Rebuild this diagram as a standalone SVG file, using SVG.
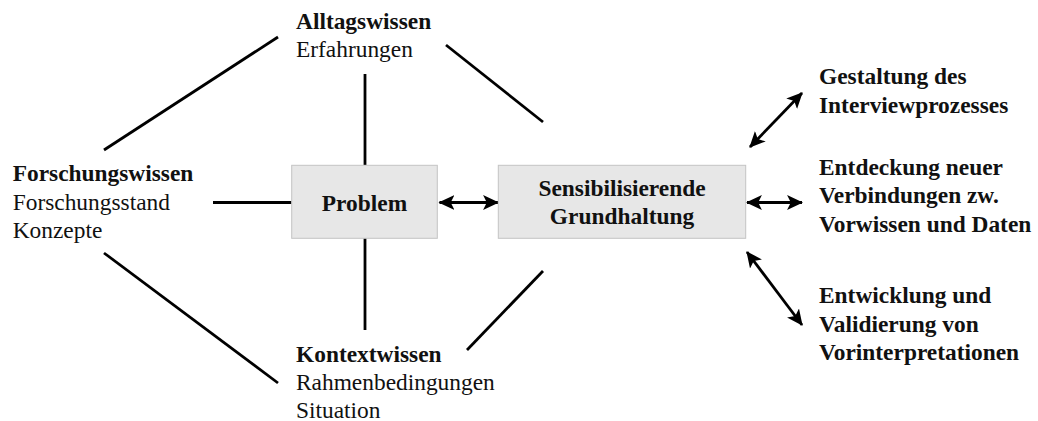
<svg xmlns="http://www.w3.org/2000/svg" width="1038" height="421" viewBox="0 0 1038 421">
  <style>
    text { font-family: 'Liberation Serif', 'DejaVu Serif', serif; font-size: 23.4px; fill: #111; }
    .b { font-weight: bold; }
    .box { fill: #e7e7e7; stroke: #c4c4c4; stroke-width: 1; }
    .ln { stroke: #000; stroke-width: 2.8; fill: none; stroke-linecap: butt; }
    .arr { marker-start: url(#head); marker-end: url(#head); }
  </style>
  <defs>
    <marker id="head" markerUnits="userSpaceOnUse" markerWidth="16" markerHeight="16" viewBox="0 0 15 14" refX="14" refY="7" orient="auto-start-reverse">
      <path d="M0,0 L15,7 L0,14 L3.5,7 z" fill="#000"/>
    </marker>
  </defs>

  <!-- connectors -->
  <g id="connectors">
    <line class="ln" x1="104" y1="150" x2="278" y2="37"/>
    <line class="ln" x1="104" y1="253" x2="278" y2="383"/>
    <line class="ln" x1="446" y1="45" x2="543" y2="122"/>
    <line class="ln" x1="467" y1="350" x2="543" y2="271"/>
    <line class="ln" x1="365" y1="74" x2="365" y2="165"/>
    <line class="ln" x1="365" y1="238" x2="365" y2="330"/>
    <line class="ln" x1="213" y1="202.5" x2="291.7" y2="202.5"/>
    <line class="ln arr" x1="439.5" y1="202.5" x2="498" y2="202.5"/>
    <line class="ln arr" x1="747" y1="202.5" x2="802" y2="202.5"/>
    <line class="ln arr" x1="750" y1="147" x2="802" y2="93"/>
    <line class="ln arr" x1="747" y1="252" x2="802" y2="325"/>
  </g>

  <!-- central boxes -->
  <g id="problem">
    <rect class="box" x="291.7" y="165.3" width="145.6" height="73"/>
    <text class="b" x="364.5" y="210.7" text-anchor="middle">Problem</text>
  </g>
  <g id="grundhaltung">
    <rect class="box" x="498.3" y="165.3" width="247.4" height="73"/>
    <text class="b" x="622" y="195.7" text-anchor="middle">Sensibilisierende</text>
    <text class="b" x="622" y="224" text-anchor="middle">Grundhaltung</text>
  </g>

  <!-- knowledge sources -->
  <g id="alltagswissen">
    <text class="b" x="296" y="29">Alltagswissen</text>
    <text x="296" y="57.3">Erfahrungen</text>
  </g>
  <g id="forschungswissen">
    <text class="b" x="12.7" y="180.7">Forschungswissen</text>
    <text x="12.7" y="209.5">Forschungsstand</text>
    <text x="12.7" y="237.8">Konzepte</text>
  </g>
  <g id="kontextwissen">
    <text class="b" x="296" y="361.5">Kontextwissen</text>
    <text x="296" y="389.8">Rahmenbedingungen</text>
    <text x="296" y="418">Situation</text>
  </g>

  <!-- effects -->
  <g id="gestaltung">
    <text class="b" x="819" y="83.5">Gestaltung des</text>
    <text class="b" x="819" y="112.5">Interviewprozesses</text>
  </g>
  <g id="entdeckung">
    <text class="b" x="819" y="175">Entdeckung neuer</text>
    <text class="b" x="819" y="203.3">Verbindungen zw.</text>
    <text class="b" x="819" y="231.7">Vorwissen und Daten</text>
  </g>
  <g id="entwicklung">
    <text class="b" x="819" y="303.3">Entwicklung und</text>
    <text class="b" x="819" y="331.7">Validierung von</text>
    <text class="b" x="819" y="360">Vorinterpretationen</text>
  </g>
</svg>
